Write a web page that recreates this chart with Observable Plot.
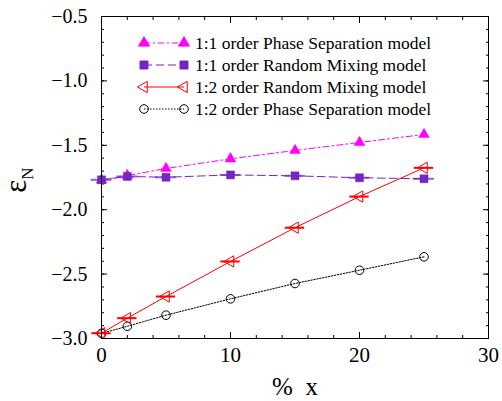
<!DOCTYPE html>
<html><head><meta charset="utf-8">
<script src="https://cdn.jsdelivr.net/npm/d3@7"></script>
<script src="https://cdn.jsdelivr.net/npm/@observablehq/plot@0.6"></script>
<style>
body{margin:0;background:#fff}
#wrap{position:relative;width:502px;height:401px;font-family:'Liberation Serif','DejaVu Serif',serif}
#wrap svg text{font-family:'Liberation Serif','DejaVu Serif',serif}
#legend{position:absolute;left:140px;top:32px;font-size:17.5px;line-height:22px;color:#000}
#legend .row{display:flex;align-items:center;height:22px;white-space:nowrap}
#legend svg{width:52px;height:22px;margin-right:3px;overflow:visible}
</style>
</head><body><div id="wrap"></div>
<script>
// ---- data ----
const xValues = [0, 2, 5, 10, 15, 20, 25];
const ps11 = [-1.770, -1.735, -1.680, -1.605, -1.540, -1.478, -1.416];
const rm11 = [-1.768, -1.742, -1.748, -1.730, -1.737, -1.752, -1.760];
const rm12 = [-2.959, -2.842, -2.674, -2.402, -2.140, -1.898, -1.675];
const ps12 = [-2.960, -2.905, -2.819, -2.692, -2.573, -2.470, -2.366];
const seriesNames = [
  "1:1 order Phase Separation model",
  "1:1 order Random Mixing model",
  "1:2 order Random Mixing model",
  "1:2 order Phase Separation model"
];
const xMajorTicks = [0, 10, 20, 30];
const xMinorTicks = [0, 2, 4, 6, 8, 10, 12, 14, 16, 18, 20, 22, 24, 26, 28, 30];
const yMajorTicks = [-3.0, -2.5, -2.0, -1.5, -1.0, -0.5];
const yMinorTicks = [-3.0,-2.9,-2.8,-2.7,-2.6,-2.5,-2.4,-2.3,-2.2,-2.1,-2.0,-1.9,-1.8,-1.7,-1.6,-1.5,-1.4,-1.3,-1.2,-1.1,-1.0,-0.9,-0.8,-0.7,-0.6,-0.5];
const xErrRM12 = 0.75;
const xErrRM11 = 0.8;

const rows = (ys) => xValues.map((x, i) => ({x, y: ys[i]}));
const dPS11 = rows(ps11), dRM11 = rows(rm11), dRM12 = rows(rm12), dPS12 = rows(ps12);

const MAG = "#ff00ff", PUR = "#7326c0", RED = "#ff0000", BLK = "#000000";
const fmt = d => d.toFixed(1).replace("-", "\u2212");
const font = "'Liberation Serif','DejaVu Serif',serif";

const chart = Plot.plot({
  width: 502, height: 401,
  marginLeft: 101, marginRight: 14, marginTop: 16, marginBottom: 63,
  style: {fontFamily: font, fontSize: "20px", background: "#fff", color: "#000"},
  x: {domain: [0, 30]},
  y: {domain: [-3.0, -0.5]},
  marks: [
    Plot.axisX(xMinorTicks, {anchor: "bottom", tickSize: -3, text: null, label: null}),
    Plot.axisX(xMajorTicks, {anchor: "bottom", tickSize: -6, text: null, label: null}),
    Plot.axisX(xMinorTicks, {anchor: "top", tickSize: -3, text: null, label: null}),
    Plot.axisX(xMajorTicks, {anchor: "top", tickSize: -6, text: null, label: null}),
    Plot.axisY(yMinorTicks, {anchor: "left", tickSize: -3, text: null, label: null}),
    Plot.axisY(yMajorTicks, {anchor: "left", tickSize: -6, text: null, label: null}),
    Plot.axisY(yMinorTicks, {anchor: "right", tickSize: -3, text: null, label: null}),
    Plot.axisY(yMajorTicks, {anchor: "right", tickSize: -6, text: null, label: null}),
    Plot.axisX(xMajorTicks, {anchor: "bottom", tickSize: 0, tickPadding: 9, label: null, fontSize: 21}),
    Plot.axisY(yMajorTicks, {anchor: "left", tickSize: 0, tickPadding: 14, tickFormat: fmt, label: null, fontSize: 20}),
    Plot.line(dPS11, {x: "x", y: "y", stroke: MAG, strokeWidth: 1, strokeDasharray: "6,3,2,3"}),
    Plot.dot(dPS11, {x: "x", y: "y", symbol: "triangle", r: 4, fill: MAG, stroke: MAG, strokeWidth: 0.5}),
    Plot.line(dPS12, {x: "x", y: "y", stroke: BLK, strokeWidth: 1, strokeDasharray: "1.5,1.5"}),
    Plot.dot(dPS12, {x: "x", y: "y", symbol: "circle", r: 4.3, fill: "none", stroke: BLK, strokeWidth: 1}),
    Plot.line(dRM12, {x: "x", y: "y", stroke: RED, strokeWidth: 1}),
    Plot.ruleY(dRM12, {x1: d => d.x - xErrRM12, x2: d => d.x + xErrRM12, y: "y", stroke: RED, strokeWidth: 2}),
    Plot.dot(dRM12, {x: "x", y: "y", symbol: "triangle", rotate: -90, r: 4.2, fill: "none", stroke: RED, strokeWidth: 1}),
    Plot.line(dRM11, {x: "x", y: "y", stroke: PUR, strokeWidth: 1, strokeDasharray: "8,4"}),
    Plot.ruleY(dRM11, {x1: d => d.x - xErrRM11, x2: d => d.x + xErrRM11, y: "y", stroke: PUR, strokeOpacity: 0.75, strokeWidth: 2}),
    Plot.dot(dRM11, {x: "x", y: "y", symbol: "square", r: 4.5, fill: PUR, stroke: PUR, strokeWidth: 0.5}),
    Plot.frame({stroke: BLK, strokeWidth: 1})
  ]
});

const wrap = document.getElementById("wrap");
wrap.appendChild(chart);

const svg = d3.select(chart);
svg.append("text")
  .attr("x", 295).attr("y", 395)
  .attr("text-anchor", "middle")
  .style("font-size", "25px")
  .text("%\u00a0\u00a0x");
const yl = svg.append("text")
  .attr("transform", "translate(26,180) rotate(-90)")
  .attr("text-anchor", "middle");
yl.append("tspan").style("font-size", "31px").text("\u03b5");
yl.append("tspan").style("font-size", "17px").attr("dy", 7).text("N");

const legendSpec = [
  {name: seriesNames[0], color: MAG, dash: "6,3,2,3", marker: "tri", fill: MAG},
  {name: seriesNames[1], color: PUR, dash: "8,4", marker: "sq", fill: PUR},
  {name: seriesNames[2], color: RED, dash: null, marker: "ltri", fill: "none"},
  {name: seriesNames[3], color: BLK, dash: "1.5,1.5", marker: "circ", fill: "none"}
];
const legend = d3.select(wrap).append("div").attr("id", "legend");
for (const s of legendSpec) {
  const row = legend.append("div").attr("class", "row");
  const sv = row.append("svg");
  sv.append("line").attr("x1", 4).attr("x2", 44).attr("y1", 11).attr("y2", 11)
    .attr("stroke", s.color).attr("stroke-width", 1).attr("stroke-dasharray", s.dash);
  for (const cx of [4, 44]) {
    let sym, rot = 0, size;
    if (s.marker === "tri") { sym = d3.symbolTriangle; size = 16 * Math.PI; }
    else if (s.marker === "ltri") { sym = d3.symbolTriangle; size = 17.6 * Math.PI; rot = -90; }
    else if (s.marker === "sq") { sym = d3.symbolSquare; size = 20.25 * Math.PI; }
    else { sym = d3.symbolCircle; size = 18.5 * Math.PI; }
    sv.append("path").attr("d", d3.symbol(sym, size)())
      .attr("transform", `translate(${cx},11) rotate(${rot})`)
      .attr("fill", s.fill).attr("stroke", s.color).attr("stroke-width", 1);
  }
  row.append("span").text(s.name);
}
</script>
</body></html>
